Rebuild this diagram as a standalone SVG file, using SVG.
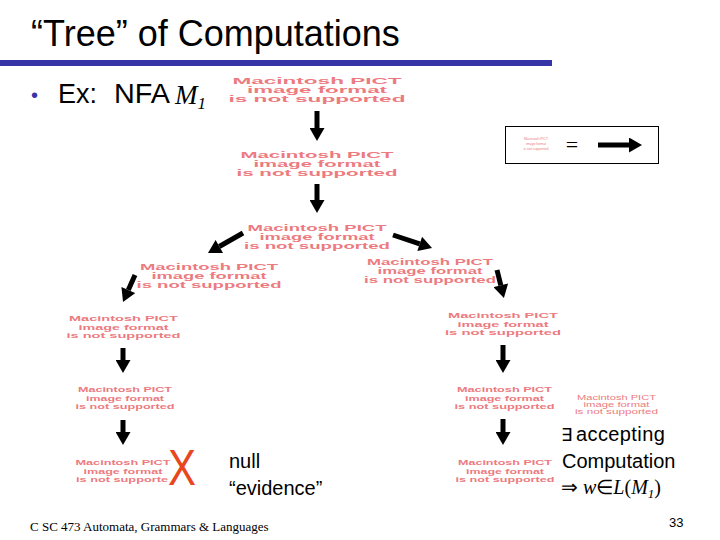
<svg xmlns="http://www.w3.org/2000/svg" width="720" height="540" viewBox="0 0 720 540">
<defs>
<style>
.pict text{font-family:"Liberation Sans",Arial,sans-serif;font-weight:bold;font-size:8.5px;fill:#ec7b7f;text-anchor:middle}
.pict.s text{font-size:7.8px}
.pict.t text{font-size:6.5px;font-weight:normal}
.pict.u text{font-size:4px;font-weight:normal}
.sans{font-family:"Liberation Sans",Arial,sans-serif;fill:#000}
.serif{font-family:"Liberation Serif","Times New Roman",serif;fill:#000}
.arr{stroke:#000;stroke-width:5;fill:none;marker-end:url(#ah)}
</style>
<marker id="ah" markerUnits="userSpaceOnUse" markerWidth="14" markerHeight="15" viewBox="0 0 13 15" refX="0" refY="7.5" orient="auto">
<path d="M0,0 L13,7.5 L0,15 z" fill="#000"/>
</marker>
</defs>
<rect width="720" height="540" fill="#fff"/>

<g id="title">
<text class="sans" x="31" y="46" font-size="36">“Tree” of Computations</text>
<rect x="0" y="60" width="552" height="6" fill="#3535a8"/>
</g>

<g id="bullet">
<text class="sans" x="31" y="102" font-size="20" style="fill:#3535a8">•</text>
<text class="sans" x="58" y="103" font-size="27">Ex:</text>
<text class="sans" x="114" y="103" font-size="27" textLength="56" lengthAdjust="spacingAndGlyphs">NFA</text>
<text class="serif" x="175" y="104" font-size="27" font-style="italic">M<tspan font-size="17" dy="5">1</tspan></text>
</g>

<g id="n1" class="pict" transform="translate(317,84)">
<text y="0" textLength="169" lengthAdjust="spacingAndGlyphs">Macintosh PICT</text>
<text y="9" textLength="140" lengthAdjust="spacingAndGlyphs">image format</text>
<text y="18" textLength="177" lengthAdjust="spacingAndGlyphs">is not supported</text>
</g>
<g id="n2" class="pict" transform="translate(317,158)">
<text y="0" textLength="153" lengthAdjust="spacingAndGlyphs">Macintosh PICT</text>
<text y="9" textLength="127" lengthAdjust="spacingAndGlyphs">image format</text>
<text y="18" textLength="161" lengthAdjust="spacingAndGlyphs">is not supported</text>
</g>
<g id="n3" class="pict" transform="translate(317,231)">
<text y="0" textLength="139" lengthAdjust="spacingAndGlyphs">Macintosh PICT</text>
<text y="9" textLength="115" lengthAdjust="spacingAndGlyphs">image format</text>
<text y="18" textLength="146" lengthAdjust="spacingAndGlyphs">is not supported</text>
</g>
<g id="n4" class="pict" transform="translate(209,270)">
<text y="0" textLength="138" lengthAdjust="spacingAndGlyphs">Macintosh PICT</text>
<text y="9" textLength="115" lengthAdjust="spacingAndGlyphs">image format</text>
<text y="18" textLength="145" lengthAdjust="spacingAndGlyphs">is not supported</text>
</g>
<g id="n5" class="pict" transform="translate(430,265)">
<text y="0" textLength="126" lengthAdjust="spacingAndGlyphs">Macintosh PICT</text>
<text y="9" textLength="105" lengthAdjust="spacingAndGlyphs">image format</text>
<text y="18" textLength="132" lengthAdjust="spacingAndGlyphs">is not supported</text>
</g>
<g id="n6" class="pict s" transform="translate(123.5,321)">
<text y="0" textLength="109" lengthAdjust="spacingAndGlyphs">Macintosh PICT</text>
<text y="8.5" textLength="90" lengthAdjust="spacingAndGlyphs">image format</text>
<text y="17" textLength="114" lengthAdjust="spacingAndGlyphs">is not supported</text>
</g>
<g id="n7" class="pict s" transform="translate(503,318)">
<text y="0" textLength="110" lengthAdjust="spacingAndGlyphs">Macintosh PICT</text>
<text y="8.5" textLength="91" lengthAdjust="spacingAndGlyphs">image format</text>
<text y="17" textLength="116" lengthAdjust="spacingAndGlyphs">is not supported</text>
</g>
<g id="n8" class="pict s" transform="translate(125,392)">
<text y="0" textLength="94" lengthAdjust="spacingAndGlyphs">Macintosh PICT</text>
<text y="8.5" textLength="78" lengthAdjust="spacingAndGlyphs">image format</text>
<text y="17" textLength="99" lengthAdjust="spacingAndGlyphs">is not supported</text>
</g>
<g id="n9" class="pict s" transform="translate(504.5,392)">
<text y="0" textLength="95" lengthAdjust="spacingAndGlyphs">Macintosh PICT</text>
<text y="8.5" textLength="79" lengthAdjust="spacingAndGlyphs">image format</text>
<text y="17" textLength="100" lengthAdjust="spacingAndGlyphs">is not supported</text>
</g>
<g id="n10" class="pict t" transform="translate(616.5,400)">
<text y="0" textLength="79" lengthAdjust="spacingAndGlyphs">Macintosh PICT</text>
<text y="7" textLength="66" lengthAdjust="spacingAndGlyphs">image format</text>
<text y="14" textLength="83" lengthAdjust="spacingAndGlyphs">is not supported</text>
</g>
<g id="n11" class="pict s" transform="translate(123,465)">
<text y="0" textLength="95" lengthAdjust="spacingAndGlyphs">Macintosh PICT</text>
<text y="8.5" textLength="79" lengthAdjust="spacingAndGlyphs">image format</text>
<text x="-47" y="17" textLength="92" lengthAdjust="spacingAndGlyphs" style="text-anchor:start">is not supporte</text>
<text x="59" y="20" textLength="28" lengthAdjust="spacingAndGlyphs" style="font-weight:normal;font-size:50px;fill:#e8461e;text-anchor:middle">X</text>
</g>
<g id="n12" class="pict s" transform="translate(505,465)">
<text y="0" textLength="94" lengthAdjust="spacingAndGlyphs">Macintosh PICT</text>
<text y="8.5" textLength="78" lengthAdjust="spacingAndGlyphs">image format</text>
<text y="17" textLength="99" lengthAdjust="spacingAndGlyphs">is not supported</text>
</g>

<g id="legend">
<rect x="505.5" y="126.5" width="153" height="37" fill="none" stroke="#000" stroke-width="1"/>
<g class="pict u" transform="translate(536,140)">
<text y="0" textLength="24" lengthAdjust="spacingAndGlyphs">Macintosh PICT</text>
<text y="5" textLength="20" lengthAdjust="spacingAndGlyphs">image format</text>
<text y="10" textLength="25" lengthAdjust="spacingAndGlyphs">is not supported</text>
</g>
<text class="serif" x="572" y="152" font-size="22" text-anchor="middle">=</text>
<line class="arr" x1="598" y1="145" x2="629" y2="145"/>
</g>

<g id="connectors">
<line class="arr" x1="317" y1="111" x2="317" y2="128"/>
<line class="arr" x1="317" y1="184" x2="317" y2="200"/>
<line class="arr" x1="243" y1="233" x2="219.3" y2="246.5"/>
<line class="arr" x1="393" y1="235" x2="419.7" y2="243.9"/>
<line class="arr" x1="135" y1="275" x2="128.3" y2="290.1"/>
<line class="arr" x1="497" y1="270" x2="500.8" y2="285.4"/>
<line class="arr" x1="123" y1="348" x2="123" y2="360"/>
<line class="arr" x1="123" y1="420" x2="123" y2="432"/>
<line class="arr" x1="503" y1="345" x2="503" y2="360"/>
<line class="arr" x1="503" y1="419" x2="503" y2="432"/>
</g>

<g id="null-note">
<text class="sans" x="229" y="468" font-size="20">null</text>
<text class="sans" x="229" y="495" font-size="20">“evidence”</text>
</g>

<g id="accept-note">
<text class="serif" x="561" y="441" font-size="18">∃</text>
<text class="sans" x="576" y="441" font-size="20" letter-spacing="0.4">accepting</text>
<text class="sans" x="562" y="468" font-size="20">Computation</text>
<text class="serif" x="561" y="494" font-size="20">⇒ <tspan font-style="italic">w</tspan>∈<tspan font-style="italic">L</tspan>(<tspan font-style="italic">M<tspan font-size="13" dy="4">1</tspan></tspan><tspan dy="-4">)</tspan></text>
</g>

<g id="footer">
<text class="serif" x="30" y="531" font-size="13">C SC 473 Automata, Grammars &amp; Languages</text>
<text class="sans" x="669" y="527" font-size="13">33</text>
</g>
</svg>
